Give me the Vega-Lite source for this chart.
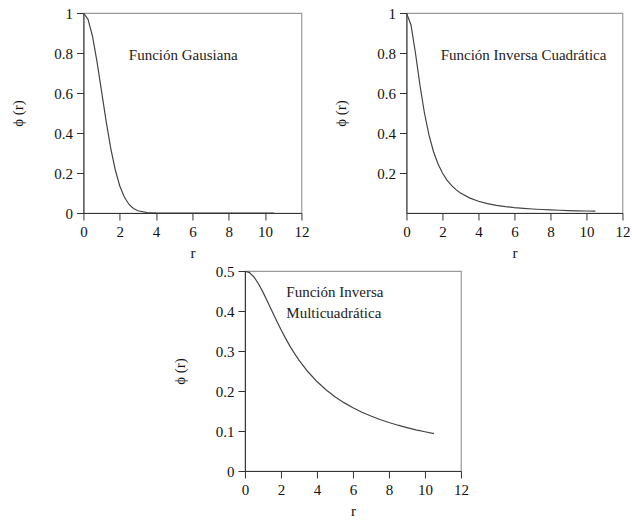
{
  "$schema": "https://vega.github.io/schema/vega-lite/v6.json",
  "background": "white",
  "padding": {"left": 10, "top": 5, "right": 2, "bottom": 3},
  "config": {
    "font": "Liberation Serif",
    "view": {"stroke": "#9a9a9a", "strokeWidth": 1.2},
    "axis": {
      "grid": false,
      "domainColor": "#333",
      "tickColor": "#333",
      "labelColor": "#111",
      "titleColor": "#111",
      "labelFont": "Liberation Serif",
      "titleFont": "Liberation Serif",
      "labelFontSize": 15,
      "titleFontSize": 15,
      "titleFontWeight": "normal",
      "tickSize": 7,
      "labelPadding": 4,
      "labelFlush": false,
      "labelBound": false
    },
    "axisX": {"titlePadding": 6},
    "axisY": {"titlePadding": 28}
  },
  "datasets": {
    "curves": [
      {"r": 0, "g": 1, "iq": 1, "imq": 0.5},
      {"r": 0.25, "g": 0.9692, "iq": 0.9412, "imq": 0.4961},
      {"r": 0.5, "g": 0.8825, "iq": 0.8, "imq": 0.4851},
      {"r": 0.75, "g": 0.7548, "iq": 0.64, "imq": 0.4682},
      {"r": 1, "g": 0.6065, "iq": 0.5, "imq": 0.4472},
      {"r": 1.25, "g": 0.4578, "iq": 0.3902, "imq": 0.424},
      {"r": 1.5, "g": 0.3247, "iq": 0.3077, "imq": 0.4},
      {"r": 1.75, "g": 0.2163, "iq": 0.2462, "imq": 0.3763},
      {"r": 2, "g": 0.1353, "iq": 0.2, "imq": 0.3536},
      {"r": 2.25, "g": 0.0796, "iq": 0.1649, "imq": 0.3322},
      {"r": 2.5, "g": 0.0439, "iq": 0.1379, "imq": 0.3123},
      {"r": 2.75, "g": 0.0228, "iq": 0.1168, "imq": 0.2941},
      {"r": 3, "g": 0.0111, "iq": 0.1, "imq": 0.2774},
      {"r": 3.5, "g": 0.0022, "iq": 0.0755, "imq": 0.2481},
      {"r": 4, "g": 0.0003, "iq": 0.0588, "imq": 0.2236},
      {"r": 4.5, "g": 0, "iq": 0.0471, "imq": 0.2031},
      {"r": 5, "g": 0, "iq": 0.0385, "imq": 0.1857},
      {"r": 5.5, "g": 0, "iq": 0.032, "imq": 0.1709},
      {"r": 6, "g": 0, "iq": 0.027, "imq": 0.1581},
      {"r": 6.5, "g": 0, "iq": 0.0231, "imq": 0.147},
      {"r": 7, "g": 0, "iq": 0.02, "imq": 0.1374},
      {"r": 7.5, "g": 0, "iq": 0.0175, "imq": 0.1288},
      {"r": 8, "g": 0, "iq": 0.0154, "imq": 0.1213},
      {"r": 8.5, "g": 0, "iq": 0.0137, "imq": 0.1145},
      {"r": 9, "g": 0, "iq": 0.0122, "imq": 0.1085},
      {"r": 9.5, "g": 0, "iq": 0.011, "imq": 0.103},
      {"r": 10, "g": 0, "iq": 0.0099, "imq": 0.0981},
      {"r": 10.5, "g": 0, "iq": 0.009, "imq": 0.0936}
    ],
    "labels": [
      {"panel": "g", "r": 2.5, "y": 0.79, "label": "Función Gausiana"},
      {"panel": "iq", "r": 1.9, "y": 0.79, "label": "Función Inversa Cuadrática"},
      {"panel": "imq", "r": 2.3, "y": 0.447, "label": "Función Inversa\nMulticuadrática"}
    ]
  },
  "vconcat": [
    {
      "hconcat": [
        {
          "width": 218,
          "height": 200,
          "layer": [
            {
              "data": {"name": "curves"},
              "mark": {"type": "line", "color": "#444", "strokeWidth": 1.2, "clip": true},
              "encoding": {
                "x": {"field": "r", "type": "quantitative", "scale": {"domain": [0, 12], "nice": false}, "axis": {"values": [0, 2, 4, 6, 8, 10, 12], "tickCount": 20, "title": "r", "labelExpr": "'' + datum.value", "labelOverlap": false}},
                "y": {"field": "g", "type": "quantitative", "scale": {"domain": [0, 1], "nice": false}, "axis": {"values": [0, 0.2, 0.4, 0.6, 0.8, 1], "tickCount": 20, "title": "ϕ (r)", "labelExpr": "'' + datum.value", "labelOverlap": false}}
              }
            },
            {
              "data": {"name": "labels"},
              "transform": [{"filter": "datum.panel == 'g'"}],
              "mark": {"type": "text", "align": "left", "baseline": "middle", "fontSize": 15, "color": "#222", "font": "Liberation Serif"},
              "encoding": {
                "x": {"field": "r", "type": "quantitative"},
                "y": {"field": "y", "type": "quantitative"},
                "text": {"field": "label"}
              }
            }
          ]
        },
        {
          "width": 216,
          "height": 200,
          "layer": [
            {
              "data": {"name": "curves"},
              "mark": {"type": "line", "color": "#444", "strokeWidth": 1.2, "clip": true},
              "encoding": {
                "x": {"field": "r", "type": "quantitative", "scale": {"domain": [0, 12], "nice": false}, "axis": {"values": [0, 2, 4, 6, 8, 10, 12], "tickCount": 20, "title": "r", "labelExpr": "'' + datum.value", "labelOverlap": false}},
                "y": {"field": "iq", "type": "quantitative", "scale": {"domain": [0, 1], "nice": false}, "axis": {"values": [0.2, 0.4, 0.6, 0.8, 1], "tickCount": 20, "title": "ϕ (r)", "labelExpr": "'' + datum.value", "labelOverlap": false}}
              }
            },
            {
              "data": {"name": "labels"},
              "transform": [{"filter": "datum.panel == 'iq'"}],
              "mark": {"type": "text", "align": "left", "baseline": "middle", "fontSize": 15, "color": "#222", "font": "Liberation Serif"},
              "encoding": {
                "x": {"field": "r", "type": "quantitative"},
                "y": {"field": "y", "type": "quantitative"},
                "text": {"field": "label"}
              }
            }
          ]
        }
      ],
      "spacing": 22
    },
    {
      "width": 216,
      "height": 200,
      "layer": [
        {
          "data": {"name": "curves"},
          "mark": {"type": "line", "color": "#444", "strokeWidth": 1.2, "clip": true},
          "encoding": {
            "x": {"field": "r", "type": "quantitative", "scale": {"domain": [0, 12], "nice": false}, "axis": {"values": [0, 2, 4, 6, 8, 10, 12], "tickCount": 20, "title": "r", "labelExpr": "'' + datum.value", "labelOverlap": false}},
            "y": {"field": "imq", "type": "quantitative", "scale": {"domain": [0, 0.5], "nice": false}, "axis": {"values": [0, 0.1, 0.2, 0.3, 0.4, 0.5], "tickCount": 20, "title": "ϕ (r)", "labelExpr": "'' + datum.value", "labelOverlap": false}}
          }
        },
        {
          "data": {"name": "labels"},
          "transform": [{"filter": "datum.panel == 'imq'"}],
          "mark": {"type": "text", "align": "left", "baseline": "middle", "fontSize": 15, "color": "#222", "font": "Liberation Serif", "lineBreak": "\n", "lineHeight": 21},
          "encoding": {
            "x": {"field": "r", "type": "quantitative"},
            "y": {"field": "y", "type": "quantitative"},
            "text": {"field": "label"}
          }
        }
      ]
    }
  ],
  "spacing": 2,
  "center": true
}
